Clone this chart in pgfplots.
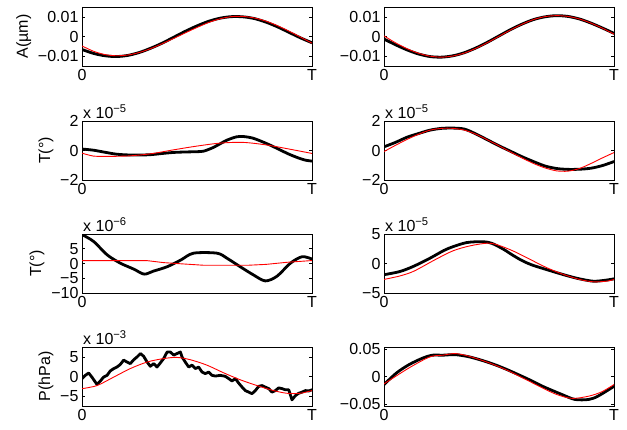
\documentclass[border=0pt]{standalone}
\usepackage{fontspec}
\setmainfont{Liberation Sans}
\usepackage{pgfplots}
\pgfplotsset{compat=1.18}

\pgfplotsset{
  panel/.style={
    scale only axis, width=230pt, height=59pt, anchor=south west,
    xmin=0, xmax=1, xtick={0,1}, xticklabels={0,T},
    scaled y ticks=false,
    tick align=inside, major tick length=3pt,
    axis line style={line width=0.8pt},
    every tick/.style={black, line width=0.6pt},
    tick label style={font=\fontsize{16}{16}\selectfont},
    ylabel style={font=\fontsize{16}{16}\selectfont},
    clip mode=individual,
  },
  blk/.style={black, line width=2.8pt, line join=round, line cap=round},
  rd/.style={red, line width=0.9pt},
}
\newcommand{\scalelab}[1]{\node[anchor=south west, inner sep=1pt, yshift=1pt, font=\fontsize{16}{16}\selectfont] at (rel axis cs:0,1) {x 10\textsuperscript{−#1}};}

\begin{document}
\begin{tikzpicture}
\useasboundingbox (0,0) rectangle (627pt,429pt);

% row 1 left
\begin{axis}[panel, at={(82pt,363pt)}, ymin=-0.015, ymax=0.015,
  ytick={-0.01,0,0.01}, yticklabels={−0.01,0,0.01}, ylabel={A(µm)}]
\addplot[blk, smooth] coordinates {(0,-0.0066) (0.05,-0.0086) (0.1,-0.0098) (0.15,-0.0102) (0.2,-0.0096) (0.25,-0.0081) (0.3,-0.0059) (0.35,-0.0033) (0.4,-0.0003) (0.45,0.0027) (0.5,0.0054) (0.55,0.0077) (0.6,0.0093) (0.65,0.0101) (0.7,0.0100) (0.75,0.0091) (0.8,0.0073) (0.85,0.0049) (0.9,0.0021) (0.95,-0.0007) (1,-0.0032)};
\addplot[rd, smooth] coordinates {(0,-0.0048) (0.05,-0.0075) (0.1,-0.0092) (0.15,-0.0098) (0.2,-0.0094) (0.25,-0.0081) (0.3,-0.0061) (0.35,-0.0036) (0.4,-0.0009) (0.45,0.0019) (0.5,0.0046) (0.55,0.0071) (0.6,0.0090) (0.65,0.0101) (0.7,0.0102) (0.75,0.0094) (0.8,0.0078) (0.85,0.0055) (0.9,0.0027) (0.95,-0.0003) (1,-0.0034)};
\end{axis}

% row 1 right
\begin{axis}[panel, at={(384pt,363pt)}, ymin=-0.015, ymax=0.015,
  ytick={-0.01,0,0.01}, yticklabels={−0.01,0,0.01}]
\addplot[blk, smooth] coordinates {(0,-0.0013) (0.05,-0.0042) (0.1,-0.0068) (0.15,-0.0089) (0.2,-0.0102) (0.25,-0.0105) (0.3,-0.0098) (0.35,-0.0082) (0.4,-0.0058) (0.45,-0.0029) (0.5,0.0003) (0.55,0.0035) (0.6,0.0063) (0.65,0.0086) (0.7,0.0100) (0.75,0.0106) (0.8,0.0102) (0.85,0.0089) (0.9,0.0068) (0.95,0.0043) (1,0.0016)};
\addplot[rd, smooth] coordinates {(0,0.0003) (0.05,-0.0032) (0.1,-0.0062) (0.15,-0.0085) (0.2,-0.0100) (0.25,-0.0105) (0.3,-0.0099) (0.35,-0.0084) (0.4,-0.0060) (0.45,-0.0031) (0.5,0.0001) (0.55,0.0033) (0.6,0.0062) (0.65,0.0086) (0.7,0.0101) (0.75,0.0106) (0.8,0.0102) (0.85,0.0089) (0.9,0.0068) (0.95,0.0042) (1,0.0012)};
\end{axis}

% row 2 left (x 10^-5)
\begin{axis}[panel, at={(82pt,249pt)}, ymin=-2, ymax=2,
  ytick={-2,0,2}, yticklabels={−2,0,2}, ylabel={T(°)}]
\addplot[blk, smooth] coordinates {(0,0.10) (0.05,0.02) (0.1,-0.12) (0.15,-0.25) (0.2,-0.30) (0.25,-0.31) (0.3,-0.28) (0.35,-0.20) (0.4,-0.13) (0.45,-0.10) (0.5,-0.08) (0.53,-0.04) (0.57,0.20) (0.6,0.45) (0.63,0.70) (0.67,0.92) (0.7,0.95) (0.74,0.85) (0.78,0.62) (0.82,0.35) (0.86,0.05) (0.9,-0.25) (0.94,-0.50) (0.97,-0.65) (1,-0.72)};
\addplot[rd, smooth] coordinates {(0,-0.18) (0.05,-0.38) (0.1,-0.40) (0.2,-0.37) (0.3,-0.22) (0.4,0.05) (0.5,0.30) (0.6,0.50) (0.7,0.55) (0.8,0.38) (0.9,0.10) (1,-0.20)};
\scalelab{5}
\end{axis}

% row 2 right (x 10^-5)
\begin{axis}[panel, at={(384pt,249pt)}, ymin=-2, ymax=2,
  ytick={-2,0,2}, yticklabels={−2,0,2}]
\addplot[blk, smooth] coordinates {(0,0.25) (0.05,0.55) (0.1,0.90) (0.15,1.15) (0.2,1.38) (0.25,1.50) (0.3,1.52) (0.35,1.45) (0.4,1.12) (0.45,0.72) (0.5,0.32) (0.55,-0.05) (0.6,-0.42) (0.65,-0.75) (0.7,-1.05) (0.75,-1.22) (0.8,-1.28) (0.85,-1.27) (0.9,-1.20) (0.95,-1.02) (1,-0.75)};
\addplot[rd, smooth] coordinates {(0,-0.07) (0.05,0.35) (0.1,0.75) (0.15,1.10) (0.2,1.38) (0.25,1.50) (0.3,1.50) (0.35,1.38) (0.4,1.10) (0.45,0.72) (0.5,0.32) (0.55,-0.10) (0.6,-0.50) (0.65,-0.88) (0.7,-1.18) (0.75,-1.38) (0.8,-1.40) (0.85,-1.22) (0.9,-0.88) (0.95,-0.50) (1,-0.14)};
\scalelab{5}
\end{axis}

% row 3 left (x 10^-6)
\begin{axis}[panel, at={(82pt,136pt)}, ymin=-10, ymax=10,
  ytick={-10,-5,0,5}, yticklabels={−10,−5,0,5}, ylabel={T(°)}]
\addplot[blk, smooth] coordinates {(0,9.8) (0.05,7.5) (0.11,2.9) (0.167,0.1) (0.225,-1.9) (0.27,-3.6) (0.31,-2.6) (0.37,-1.1) (0.43,1.2) (0.485,3.5) (0.587,3.5) (0.63,1.8) (0.688,-1.1) (0.746,-3.9) (0.797,-5.9) (0.848,-4.3) (0.906,0.1) (0.957,2.3) (1,1.5)};
\addplot[rd] coordinates {(0,1.0) (0.28,1.0) (0.355,0.3) (0.43,-0.1) (0.53,-0.6) (0.72,-0.6) (0.8,-0.3) (0.89,0.4) (1,1.0)};
\scalelab{6}
\end{axis}

% row 3 right (x 10^-5)
\begin{axis}[panel, at={(384pt,136pt)}, ymin=-5, ymax=5,
  ytick={-5,0,5}, yticklabels={−5,0,5}]
\addplot[blk, smooth] coordinates {(0,-1.9) (0.07,-1.35) (0.13,-0.45) (0.2,0.9) (0.26,2.2) (0.3,2.85) (0.36,3.55) (0.43,3.7) (0.47,3.4) (0.52,2.4) (0.56,1.4) (0.6,0.5) (0.64,-0.2) (0.7,-0.95) (0.79,-2.0) (0.85,-2.6) (0.91,-3.0) (0.96,-2.85) (1,-2.6)};
\addplot[rd, smooth] coordinates {(0,-2.7) (0.07,-2.1) (0.13,-1.3) (0.22,0.6) (0.3,2.15) (0.375,3.0) (0.45,3.45) (0.49,3.2) (0.56,2.15) (0.635,0.7) (0.707,-0.7) (0.78,-1.85) (0.85,-2.7) (0.91,-3.1) (0.967,-3.0) (1,-2.7)};
\scalelab{5}
\end{axis}

% row 4 left (x 10^-3)
\begin{axis}[panel, at={(82pt,23pt)}, ymin=-7.6, ymax=7.7,
  ytick={-5,0,5}, yticklabels={−5,0,5}, ylabel={P(hPa)}]
\addplot[blk] coordinates {(0,-0.5) (0.0145,0.35) (0.029,0.96) (0.043,-0.1) (0.058,-1.4) (0.065,-2.0) (0.080,-1.1) (0.094,-0.1) (0.109,0.35) (0.123,1.5) (0.138,2.1) (0.152,2.5) (0.167,3.2) (0.181,4.3) (0.196,3.8) (0.210,3.4) (0.225,4.4) (0.239,5.1) (0.254,6.0) (0.268,5.3) (0.283,3.8) (0.297,2.7) (0.312,3.4) (0.326,2.5) (0.341,3.6) (0.355,4.7) (0.370,6.4) (0.384,6.4) (0.399,5.6) (0.413,6.0) (0.428,6.4) (0.435,5.1) (0.449,3.8) (0.464,2.5) (0.478,3.0) (0.493,2.1) (0.507,2.5) (0.522,1.2) (0.536,0.8) (0.551,1.2) (0.565,0.35) (0.580,0.17) (0.601,0.35) (0.623,0.1) (0.638,-0.5) (0.652,-1.1) (0.667,-0.5) (0.681,-1.65) (0.696,-2.7) (0.710,-3.6) (0.725,-4.0) (0.739,-4.4) (0.754,-3.6) (0.768,-2.5) (0.783,-2.3) (0.797,-2.7) (0.812,-3.1) (0.826,-4.0) (0.841,-3.6) (0.855,-2.9) (0.870,-3.1) (0.884,-3.4) (0.899,-3.4) (0.913,-6.0) (0.928,-4.9) (0.942,-4.3) (0.957,-4.0) (0.971,-3.6) (0.986,-3.7) (1,-3.4)};
\addplot[rd, smooth] coordinates {(0,-3.1) (0.065,-2.3) (0.138,-0.1) (0.210,2.1) (0.283,3.8) (0.355,4.7) (0.413,5.0) (0.471,4.4) (0.543,3.0) (0.616,1.0) (0.688,-0.8) (0.761,-2.3) (0.833,-3.6) (0.891,-4.3) (0.949,-4.3) (1,-3.6)};
\scalelab{3}
\end{axis}

% row 4 right
\begin{axis}[panel, at={(384pt,23pt)}, ymin=-0.054, ymax=0.054,
  ytick={-0.05,0,0.05}, yticklabels={−0.05,0,0.05}]
\addplot[blk, smooth] coordinates {(0,-0.0147) (0.055,0.0067) (0.11,0.022) (0.17,0.034) (0.21,0.039) (0.256,0.039) (0.31,0.040) (0.37,0.036) (0.43,0.029) (0.486,0.021) (0.544,0.011) (0.63,-0.0055) (0.69,-0.018) (0.774,-0.033) (0.83,-0.042) (0.89,-0.042) (0.93,-0.036) (1,-0.018)};
\addplot[rd, smooth] coordinates {(0,-0.0135) (0.11,0.016) (0.2,0.036) (0.256,0.039) (0.31,0.042) (0.37,0.037) (0.457,0.025) (0.544,0.0098) (0.66,-0.0147) (0.745,-0.032) (0.817,-0.040) (0.89,-0.036) (0.947,-0.028) (1,-0.0147)};
\end{axis}
\end{tikzpicture}
\end{document}
